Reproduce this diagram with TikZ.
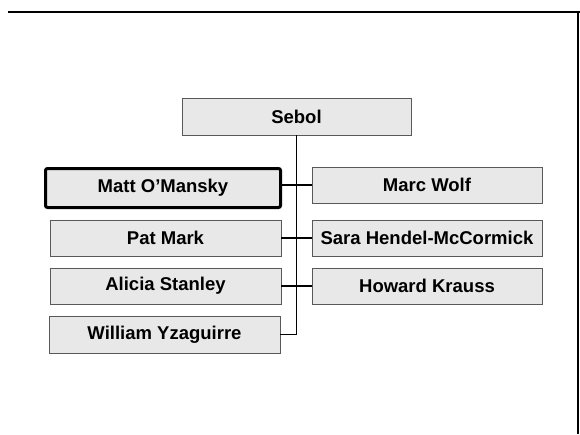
\documentclass[tikz,border=0pt]{standalone}
\usepackage{fontspec}
\setmainfont{Liberation Sans}
\begin{document}
\begin{tikzpicture}[x=1pt,y=-1pt,
  person/.style={draw=black!65, line width=0.8pt, fill=black!9, rectangle, inner sep=0pt,
    minimum height=36pt, minimum width=230pt,
    font=\fontsize{18.5}{20}\selectfont\bfseries, text=black},
  boss/.style={person, draw=black, line width=3pt, rounded corners=2pt, minimum width=235pt, minimum height=39pt},
  link/.style={draw=black, line width=1.4pt}]
\useasboundingbox (0,0) rectangle (580,434);
\fill[white] (0,0) rectangle (580,434);
% frame lines
\draw[line width=2.8pt] (8,12) -- (580,12);
\draw[line width=1.8pt] (578,12) -- (578,434);
% nodes
\node[person, minimum width=229pt, minimum height=37pt] (sebol) at (296.5,116.5) {Sebol};
\node[boss] (matt) at (163,188) {Matt O'Mansky};
\node[person, minimum width=231pt] (pat) at (165.5,238) {Pat Mark};
\node[person, minimum width=231pt] (alicia) at (165.5,286) {Alicia Stanley};
\node[person, minimum width=231pt, minimum height=37pt] (william) at (164.5,334.5) {William Yzaguirre};
\node[person] (marc) at (427,185) {Marc Wolf};
\node[person] (sara) at (427,238) {Sara Hendel-McCormick};
\node[person] (howard) at (427,286) {Howard Krauss};
% connectors
\draw[link] (sebol.south) -- (sebol.south |- william.east) -- (william.east);
\draw[link] (matt.east |- marc.west) -- (marc.west);
\draw[link] (pat.east) -- (sara.west);
\draw[link] (alicia.east) -- (howard.west);
\end{tikzpicture}
\end{document}
